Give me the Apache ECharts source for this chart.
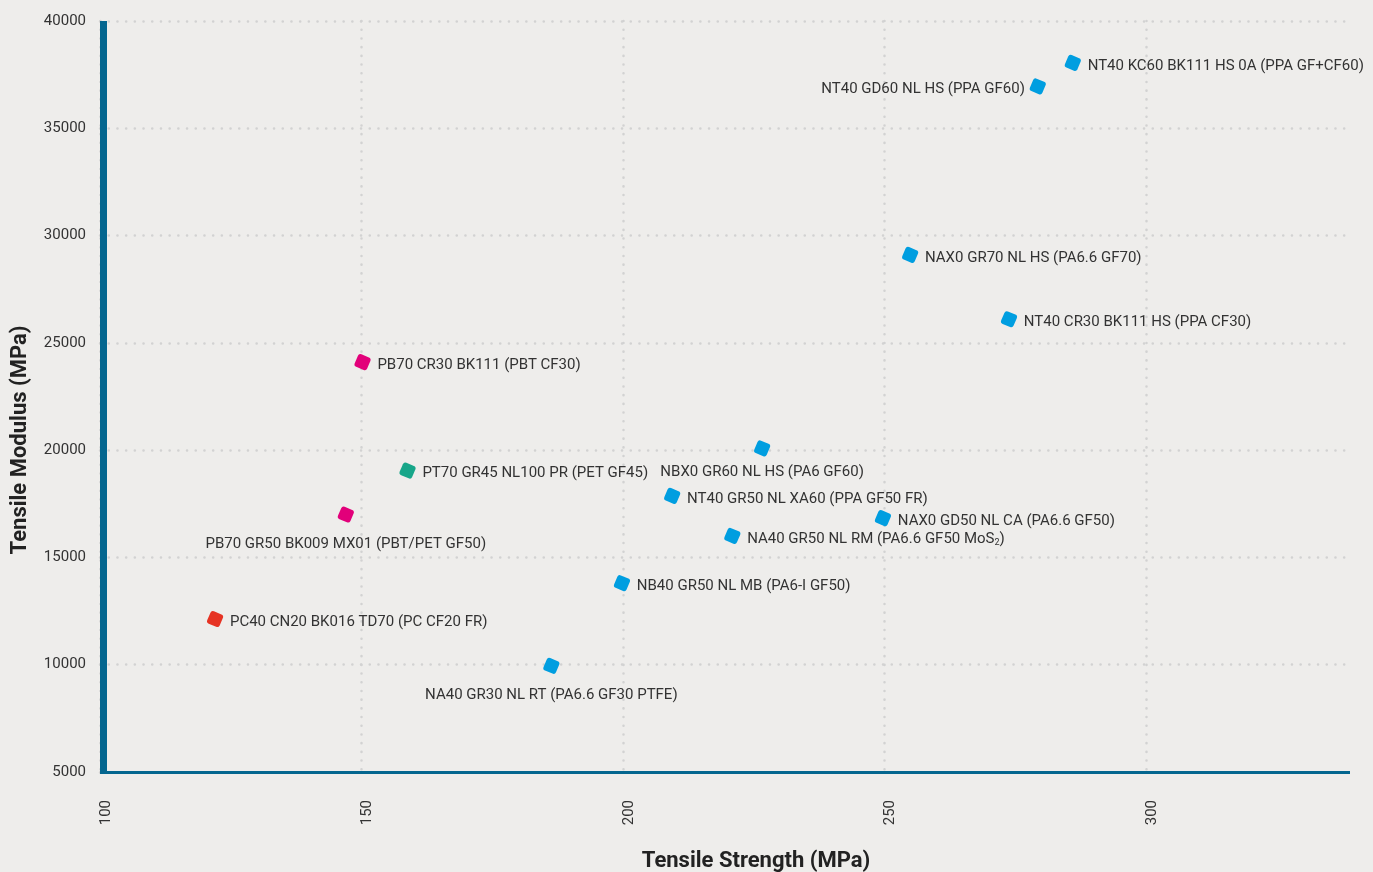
<!DOCTYPE html>
<html>
<head>
<meta charset="utf-8">
<script src="https://cdn.jsdelivr.net/npm/echarts@6/dist/echarts.min.js"></script>
<style>
html,body{margin:0;padding:0;background:#eeedeb;}
#chart{width:1373px;height:872px;}
</style>
</head>
<body>
<div id="chart"></div>
<script>
// ---- data ----
const materialNames = [
  'NT40 KC60 BK111 HS 0A (PPA GF+CF60)',
  'NT40 GD60 NL HS (PPA GF60)',
  'NAX0 GR70 NL HS (PA6.6 GF70)',
  'NT40 CR30 BK111 HS (PPA CF30)',
  'PB70 CR30 BK111 (PBT CF30)',
  'PT70 GR45 NL100 PR (PET GF45)',
  'PB70 GR50 BK009 MX01 (PBT/PET GF50)',
  'PC40 CN20 BK016 TD70 (PC CF20 FR)',
  'NA40 GR30 NL RT (PA6.6 GF30 PTFE)',
  'NB40 GR50 NL MB (PA6-I GF50)',
  'NA40 GR50 NL RM (PA6.6 GF50 MoS2)',
  'NAX0 GD50 NL CA (PA6.6 GF50)',
  'NT40 GR50 NL XA60 (PPA GF50 FR)',
  'NBX0 GR60 NL HS (PA6 GF60)'
];
const tensileStrength = [286, 279.3, 254.9, 273.8, 150.2, 158.8, 147, 122, 186.3, 199.8, 220.9, 249.7, 209.4, 226.6];
const tensileModulus  = [38050, 36950, 29100, 26100, 24100, 19050, 17000, 12130, 9950, 13800, 16000, 16830, 17870, 20080];
const polymerFamily   = ['PA','PA','PA','PA','PBT','PET','PBT','PC','PA','PA','PA','PA','PA','PA'];
const xTicks = [100, 150, 200, 250, 300];
const yTicks = [5000, 10000, 15000, 20000, 25000, 30000, 35000, 40000];

// ---- styles ----
const familyColors = { PA: '#009ee0', PBT: '#e2007a', PET: '#17a689', PC: '#e63323' };
const labelPlacement = {
  'NT40 GD60 NL HS (PPA GF60)': { position: 'left', offset: [2, 3] },
  'PB70 GR50 BK009 MX01 (PBT/PET GF50)': { position: 'bottom', offset: [0, 7] },
  'NA40 GR30 NL RT (PA6.6 GF30 PTFE)': { position: 'bottom', offset: [0, 7] },
  'NBX0 GR60 NL HS (PA6 GF60)': { position: 'bottom', offset: [0, 1] }
};
const textColor = '#333333';
const axisBlue = '#04668f';
const FONT = 'Roboto';
const FS = 15;

const symbolPath = 'path://M2,0 L8,0 Q10,0 10,2 L10,8 Q10,10 8,10 L2,10 Q0,10 0,8 L0,2 Q0,0 2,0 Z';

const points = materialNames.map((name, i) => {
  const pl = labelPlacement[name] || { position: 'right', offset: [0, 3] };
  let text = name;
  if (name.indexOf('MoS2') >= 0) {
    text = name.replace('MoS2)', 'MoS{sub|2}{n|)}');
  }
  return {
    name: name,
    value: [tensileStrength[i], tensileModulus[i]],
    itemStyle: { color: familyColors[polymerFamily[i]], opacity: 1 },
    label: {
      show: true,
      position: pl.position,
      offset: pl.offset,
      distance: 6,
      formatter: text,
      color: textColor,
      fontFamily: FONT,
      fontSize: FS,
      rich: {
        sub: { fontSize: 9, fontFamily: FONT, color: textColor, verticalAlign: 'bottom', padding: [7, 0, 0, 0] },
        n: { fontSize: FS, fontFamily: FONT, color: textColor }
      }
    }
  };
});

const chart = echarts.init(document.getElementById('chart'));
const dotted = { color: '#d2d2d2', width: 2.5, type: [0.1, 8.6], cap: 'round' };

chart.setOption({
  backgroundColor: '#eeedeb',
  animation: false,
  grid: { left: 100, right: 23, top: 21, bottom: 100, containLabel: false },
  xAxis: {
    type: 'value',
    min: xTicks[0],
    max: 339,
    interval: 50,
    axisLine: { show: true, lineStyle: { color: axisBlue, width: 3, cap: 'butt' } },
    axisTick: { show: false },
    axisLabel: {
      rotate: 90,
      margin: 28,
      color: textColor,
      fontFamily: FONT,
      fontSize: FS,
      verticalAlign: 'top',
      lineHeight: 12,
      showMaxLabel: false,
      formatter: v => (xTicks.indexOf(v) >= 0 ? String(v) : '')
    },
    splitLine: { show: true, showMaxLine: false, lineStyle: dotted }
  },
  yAxis: {
    type: 'value',
    min: yTicks[0],
    max: yTicks[yTicks.length - 1],
    interval: 5000,
    offset: -3,
    axisLine: { show: true, lineStyle: { color: axisBlue, width: 7, cap: 'butt' } },
    axisTick: { show: false },
    axisLabel: { margin: 17, color: textColor, fontFamily: FONT, fontSize: FS, formatter: v => String(v) },
    splitLine: { show: true, lineStyle: dotted }
  },
  graphic: [
    {
      type: 'text', x: 756, y: 861,
      style: { text: 'Tensile Strength (MPa)', font: 'bold 22px Roboto', fill: '#222', align: 'center', verticalAlign: 'middle' }
    },
    {
      type: 'text', x: 20, y: 440, rotation: Math.PI / 2,
      style: { text: 'Tensile Modulus (MPa)', font: 'bold 22px Roboto', fill: '#222', align: 'center', verticalAlign: 'middle' }
    }
  ],
  series: [{
    type: 'scatter',
    symbol: symbolPath,
    symbolSize: 13.5,
    symbolRotate: -23,
    data: points,
    z: 5
  }]
});
</script>
</body>
</html>
